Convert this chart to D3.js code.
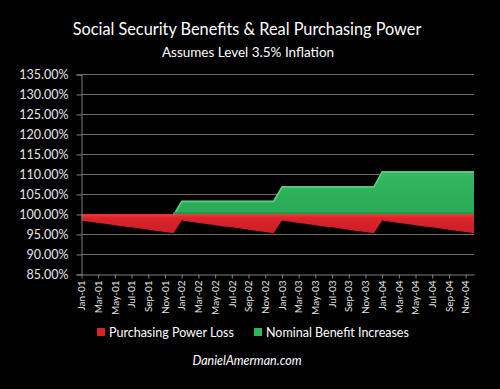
<html>
<head>
<script src="https://d3js.org/d3.v7.min.js"></script>
<style>
  body { margin: 0; background: #000; }
  text { font-family: Lato, "Open Sans", sans-serif; }
</style>
</head>
<body>
<svg id="vis"></svg>
<script>
// data: one point per month, Jan-01 .. Dec-04
const years = ['01', '02', '03', '04'];
const monthNames = ['Jan','Feb','Mar','Apr','May','Jun','Jul','Aug','Sep','Oct','Nov','Dec'];
const months = [];
years.forEach(y => monthNames.forEach(m => months.push(m + '-' + y)));

// purchasing power within each year (resets each January)
const realPower = [98.5, 98.2, 97.9, 97.6, 97.3, 97.0, 96.8, 96.5, 96.2, 95.9, 95.6, 95.3];
// nominal benefit level for each year
const nominalLevel = [100, 103.5, 107.1, 110.9];
const yTicks = [85, 90, 95, 100, 105, 110, 115, 120, 125, 130, 135];

const data = months.map((m, i) => ({
  month: m,
  loss: realPower[i % 12],
  gain: nominalLevel[Math.floor(i / 12)]
}));

const width = 500, height = 389;
const plotLeft = 81.5, plotRight = 474, plotTop = 74.5, plotBottom = 274.5;

const svg = d3.select('#vis').attr('width', width).attr('height', height);
svg.append('rect').attr('width', width).attr('height', height).attr('fill', '#000');

const x = d3.scalePoint().domain(months).range([plotLeft, plotRight]);
const y = d3.scaleLinear().domain([85, 135]).range([plotBottom, plotTop]);

// titles
svg.append('text').attr('x', 247).attr('y', 35).attr('text-anchor', 'middle')
  .attr('fill', '#fff').attr('font-size', 16.3).text('Social Security Benefits & Real Purchasing Power');
svg.append('text').attr('x', 248).attr('y', 57).attr('text-anchor', 'middle')
  .attr('fill', '#fff').attr('font-size', 13.5).text('Assumes Level 3.5% Inflation');

// gridlines
svg.append('g').selectAll('line').data(yTicks.filter(d => d > 85)).join('line')
  .attr('x1', plotLeft).attr('x2', plotRight)
  .attr('y1', d => y(d)).attr('y2', d => y(d))
  .attr('stroke', '#6e6e6e').attr('stroke-width', 1);

// areas
const redArea = d3.area().x(d => x(d.month)).y0(y(100)).y1(d => y(d.loss));
const greenArea = d3.area().x(d => x(d.month)).y0(y(100)).y1(d => y(d.gain));

const defs = svg.append('defs');
const gg = defs.append('linearGradient').attr('id', 'gGreen').attr('x1', 0).attr('x2', 0).attr('y1', 0).attr('y2', 1);
gg.append('stop').attr('offset', '0%').attr('stop-color', '#34b862');
gg.append('stop').attr('offset', '100%').attr('stop-color', '#2aa955');
const rg = defs.append('linearGradient').attr('id', 'gRed').attr('x1', 0).attr('x2', 0).attr('y1', 0).attr('y2', 1);
rg.append('stop').attr('offset', '0%').attr('stop-color', '#e0262d');
rg.append('stop').attr('offset', '100%').attr('stop-color', '#c81f26');

svg.append('path').datum(data).attr('d', redArea).attr('fill', 'url(#gRed)');
svg.append('path').datum(data).attr('d', greenArea).attr('fill', 'url(#gGreen)');

// bevel highlights
svg.append('path').datum(data.filter(d => d.gain > 100 || d.month === 'Dec-01'))
  .attr('d', d3.line().x(d => x(d.month)).y(d => y(d.gain) + 1))
  .attr('fill', 'none').attr('stroke', '#62cc86').attr('stroke-width', 1.5);
svg.append('line').attr('x1', x('Dec-01')).attr('x2', plotRight)
  .attr('y1', y(100) - 1.5).attr('y2', y(100) - 1.5)
  .attr('stroke', '#209a48').attr('stroke-width', 2);
svg.append('line').attr('x1', plotLeft).attr('x2', plotRight)
  .attr('y1', y(100) + 1).attr('y2', y(100) + 1)
  .attr('stroke', '#ff2e2e').attr('stroke-width', 2);

// y axis
const yAxis = svg.append('g').attr('transform', `translate(${plotLeft},0)`)
  .call(d3.axisLeft(y).tickValues(yTicks).tickSize(5).tickPadding(8)
    .tickFormat(d => d.toFixed(2) + '%'));
yAxis.select('.domain').attr('stroke', '#808080');
yAxis.selectAll('.tick line').attr('stroke', '#808080');
yAxis.selectAll('text').attr('fill', '#e6e6e6').attr('font-size', 12.5).attr('font-family', 'Lato, sans-serif');

// x axis
const xLabels = months.filter((m, i) => i % 2 === 0);
const xAxis = svg.append('g').attr('transform', `translate(0,${plotBottom})`)
  .call(d3.axisBottom(x).tickValues(xLabels).tickSize(4).tickSizeOuter(0));
xAxis.select('.domain').attr('stroke', '#808080');
xAxis.selectAll('.tick line').attr('stroke', '#808080');
xAxis.selectAll('text')
  .attr('fill', '#e6e6e6').attr('font-size', 10).attr('font-family', 'Lato, sans-serif')
  .attr('text-anchor', 'end').attr('dy', '0.32em')
  .attr('transform', 'translate(0,5) rotate(-90)').attr('x', -1).attr('y', 0);

// legend
const legend = [
  { label: 'Purchasing Power Loss', color: '#d9232a', x: 97 },
  { label: 'Nominal Benefit Increases', color: '#2fb55e', x: 254 }
];
const lg = svg.append('g').selectAll('g').data(legend).join('g')
  .attr('transform', d => `translate(${d.x},328)`);
lg.append('rect').attr('width', 8).attr('height', 8).attr('fill', d => d.color);
lg.append('text').attr('x', 12).attr('y', 8.5).attr('fill', '#fff').attr('font-size', 12.5)
  .text(d => d.label);

// footer
svg.append('text').attr('x', 247).attr('y', 365).attr('text-anchor', 'middle')
  .attr('fill', '#fff').attr('font-size', 12.5).attr('font-style', 'italic').text('DanielAmerman.com');
</script>
</body>
</html>
